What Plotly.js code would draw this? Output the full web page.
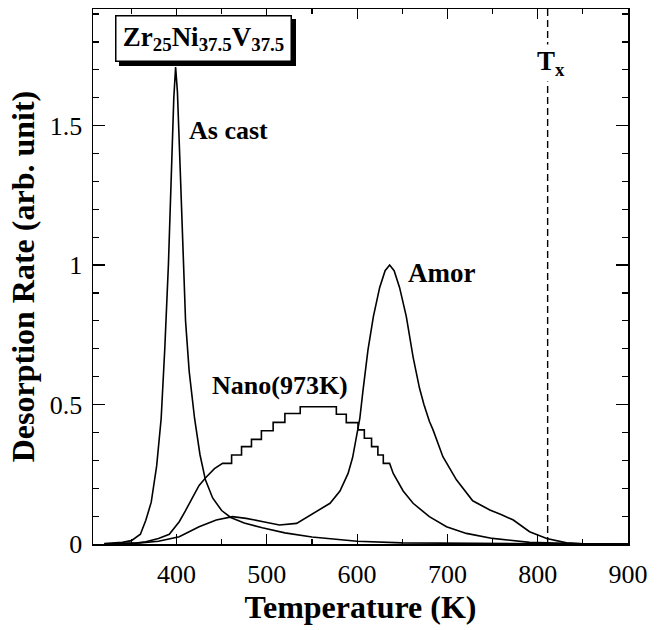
<!DOCTYPE html>
<html>
<head>
<meta charset="utf-8">
<script src="https://cdn.plot.ly/plotly-3.0.1.min.js"></script>
<style>html,body{margin:0;padding:0;background:#fff;}</style>
</head>
<body>
<div id="chart" style="width:662px;height:630px;"></div>
<script>
// As cast
const asCastT = [320, 340, 350, 360, 366, 372, 378, 383, 387, 391, 394, 397, 399, 401, 404, 407, 410, 414, 420, 426, 432, 440, 450, 460, 475, 495, 520, 550, 600, 650, 700, 800, 900];
const asCastR = [0.002, 0.006, 0.012, 0.035, 0.085, 0.15, 0.28, 0.45, 0.7, 1.0, 1.3, 1.6, 1.71, 1.62, 1.35, 1.05, 0.8, 0.62, 0.45, 0.32, 0.23, 0.165, 0.12, 0.095, 0.075, 0.058, 0.04, 0.025, 0.01, 0.004, 0.002, 0.0005, 0];

// Amor
const amorT = [320, 340, 360, 380, 403, 425, 444, 462, 477, 496, 514, 533, 551, 570, 581, 590, 595, 600, 603, 606.5, 612, 618, 625, 631, 636, 641, 647, 654.5, 662, 669, 674, 680, 684, 695, 710, 728, 747, 760, 773, 791, 810, 832, 850, 900];
const amorR = [0, 0.002, 0.004, 0.01, 0.026, 0.062, 0.086, 0.098, 0.092, 0.08, 0.068, 0.074, 0.11, 0.146, 0.19, 0.253, 0.31, 0.39, 0.45, 0.55, 0.695, 0.815, 0.92, 0.98, 1.0, 0.98, 0.92, 0.815, 0.67, 0.56, 0.5, 0.44, 0.41, 0.313, 0.23, 0.155, 0.122, 0.105, 0.086, 0.044, 0.02, 0.004, 0.001, 0];

// Nano(973K) (stepped data)
const nanoT = [320, 340, 355, 366, 380, 392, 403, 410, 418, 425, 433, 442, 451, 461, 461, 472, 472, 483, 483, 494, 494, 507, 507, 520, 520, 537, 537, 577, 577, 588, 588, 601, 601, 608, 608, 616, 616, 623, 623, 629, 629, 636, 640, 651, 662, 680, 699, 721, 750, 791, 850, 900];
const nanoR = [0, 0.001, 0.003, 0.008, 0.02, 0.035, 0.08, 0.12, 0.17, 0.21, 0.24, 0.27, 0.289, 0.289, 0.319, 0.319, 0.349, 0.349, 0.375, 0.375, 0.406, 0.406, 0.436, 0.436, 0.468, 0.468, 0.492, 0.492, 0.465, 0.465, 0.435, 0.435, 0.409, 0.409, 0.379, 0.379, 0.349, 0.349, 0.319, 0.319, 0.289, 0.289, 0.253, 0.19, 0.146, 0.098, 0.062, 0.038, 0.02, 0.006, 0.001, 0];

const txT = [811, 811];
const txR = [0, 1.918];

const xTickVals = [400, 500, 600, 700, 800, 900];
const xTickText = ['400', '500', '600', '700', '800', '900'];
const yTickVals = [0, 0.5, 1, 1.5];
const yTickText = ['0', '0.5', '1', '1.5'];

const lineStyle = {color: '#000', width: 1.6};
const traces = [
  {x: asCastT, y: asCastR, mode: 'lines', line: lineStyle, name: 'As cast'},
  {x: amorT, y: amorR, mode: 'lines', line: lineStyle, name: 'Amor'},
  {x: nanoT, y: nanoR, mode: 'lines', line: lineStyle, name: 'Nano(973K)'},
  {x: txT, y: txR, mode: 'lines', line: {color: '#000', width: 1.4, dash: '7px,4px'}, name: 'Tx'}
];

const fontSerif = '"Liberation Serif", "Times New Roman", Tinos, "DejaVu Serif", serif';
const axisCommon = {
  showline: true, mirror: 'allticks', linecolor: '#000', linewidth: 1.5,
  ticks: 'inside', tickcolor: '#000', tickwidth: 1.2,
  showgrid: false, zeroline: false,
  tickfont: {family: fontSerif, size: 26, color: '#000'}
};

const layout = {
  width: 662, height: 630,
  margin: {l: 93, r: 34, t: 9, b: 86},
  paper_bgcolor: '#fff', plot_bgcolor: '#fff',
  showlegend: false,
  font: {family: fontSerif},
  xaxis: Object.assign({}, axisCommon, {
    range: [307.5, 900], tickmode: 'array', tickvals: xTickVals, ticktext: xTickText,
    ticklen: 10, ticklabelstandoff: 6,
    minor: {dtick: 50, tick0: 0, ticks: 'inside', ticklen: 5, tickcolor: '#000', tickwidth: 1.2, showgrid: false},
    title: {text: '<b>Temperature (K)</b>', font: {family: fontSerif, size: 32, color: '#000'}, standoff: 6}
  }),
  yaxis: Object.assign({}, axisCommon, {
    range: [0, 1.918], tickmode: 'array', tickvals: yTickVals, ticktext: yTickText,
    ticklen: 12, ticklabelstandoff: 4,
    minor: {dtick: 0.1, tick0: 0, ticks: 'inside', ticklen: 6, tickcolor: '#000', tickwidth: 1.2, showgrid: false},
    title: {text: '<b>Desorption Rate (arb. unit)</b>', font: {family: fontSerif, size: 32, color: '#000'}, standoff: 5}
  }),
  annotations: [
    {xref: 'paper', yref: 'paper', x: 0.2065, y: 0.945, xanchor: 'center', yanchor: 'middle', xshift: 4, yshift: -4,
     text: '<b>Zr<sub>25</sub>Ni<sub>37.5</sub>V<sub>37.5</sub></b>', showarrow: false,
     font: {family: fontSerif, size: 27, color: '#000'}, bgcolor: '#000', bordercolor: '#000', borderwidth: 1.5, borderpad: 2,
     width: 170, height: 40},
    {xref: 'paper', yref: 'paper', x: 0.2065, y: 0.945, xanchor: 'center', yanchor: 'middle',
     text: '<b>Zr<sub>25</sub>Ni<sub>37.5</sub>V<sub>37.5</sub></b>', showarrow: false,
     font: {family: fontSerif, size: 27, color: '#000'}, bgcolor: '#fff', bordercolor: '#000', borderwidth: 1.5, borderpad: 2,
     width: 170, height: 40},
    {x: 457.8, y: 1.484, text: '<b>As cast</b>', showarrow: false, font: {family: fontSerif, size: 26, color: '#000'}},
    {x: 514.3, y: 0.57, text: '<b>Nano(973K)</b>', showarrow: false, font: {family: fontSerif, size: 26, color: '#000'}},
    {x: 693.7, y: 0.971, text: '<b>Amor</b>', showarrow: false, font: {family: fontSerif, size: 27, color: '#000'}},
    {x: 815, y: 1.725, text: '<b>T<sub>x</sub></b>', showarrow: false, bgcolor: '#fff', font: {family: fontSerif, size: 27, color: '#000'}}
  ]
};

Plotly.newPlot('chart', traces, layout, {displayModeBar: false, staticPlot: true});
</script>
</body>
</html>
